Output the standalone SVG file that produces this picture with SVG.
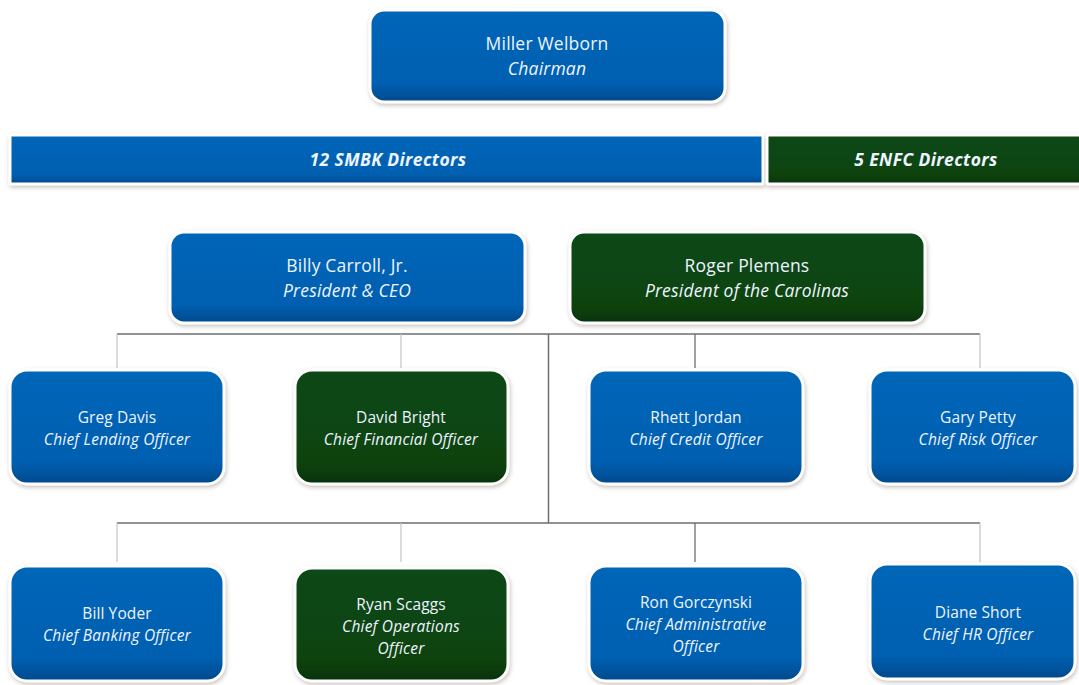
<svg xmlns="http://www.w3.org/2000/svg" width="1079" height="685" viewBox="0 0 1079 685">
  <defs>
    <linearGradient id="gBlue" x1="0" y1="0" x2="0" y2="1">
      <stop offset="0" stop-color="#0666b8"/>
      <stop offset="0.8" stop-color="#055fb0"/>
      <stop offset="1" stop-color="#034a8c"/>
    </linearGradient>
    <linearGradient id="gGreen" x1="0" y1="0" x2="0" y2="1">
      <stop offset="0" stop-color="#0a4813"/>
      <stop offset="0.8" stop-color="#094311"/>
      <stop offset="1" stop-color="#06330b"/>
    </linearGradient>
    <filter id="shadow" x="-10%" y="-10%" width="120%" height="130%">
      <feDropShadow dx="1" dy="2" stdDeviation="2" flood-color="#8a7a70" flood-opacity="0.45"/>
    </filter>
  </defs>
  <style>
    .blue { fill: url(#gBlue); stroke: #ffffff; stroke-width: 3; filter: url(#shadow); }
    .green { fill: url(#gGreen); stroke: #ffffff; stroke-width: 3; filter: url(#shadow); }
    text { font-family: "Open Sans", "Liberation Sans", sans-serif; fill: #eef4ff; text-anchor: middle; }
    .big { font-size: 17.5px; letter-spacing: 0.2px; }
    .bigi { font-size: 17.5px; font-style: italic; letter-spacing: 0.2px; }
    .sm { font-size: 15.5px; letter-spacing: 0.1px; }
    .smi { font-size: 15.5px; font-style: italic; letter-spacing: 0.2px; }
    .bar { font-size: 17.5px; font-style: italic; font-weight: bold; letter-spacing: 0.4px; }
    .main { stroke: #6e6e6e; stroke-width: 1.5; fill: none; }
    .stub { stroke: #c4c4c4; stroke-width: 1.2; fill: none; }
    .stubd { stroke: #6e6e6e; stroke-width: 1.3; fill: none; }
  </style>

  <rect width="1079" height="685" fill="#ffffff"/>

  <!-- connectors -->
  <g id="connectors">
    <path class="main" d="M117 334 H980"/>
    <path class="main" d="M548.5 334 V523"/>
    <path class="main" d="M117 523 H980"/>
    <path class="stub" d="M117 334 V368 M401 334 V368 M980 334 V368"/>
    <path class="stubd" d="M695 334 V368"/>
    <path class="stub" d="M117 523 V562 M401 523 V562 M980 523 V562"/>
    <path class="stubd" d="M695 523 V562"/>
  </g>

  <!-- chairman -->
  <g id="chairman">
    <rect class="blue" x="370" y="10" width="355" height="92" rx="14"/>
    <text class="big" x="547" y="50">Miller Welborn</text>
    <text class="bigi" x="547" y="75">Chairman</text>
  </g>

  <!-- board bar -->
  <g id="smbk-directors">
    <rect class="blue" x="10" y="135" width="753" height="49" rx="1"/>
    <text class="bar" x="388" y="166">12 SMBK Directors</text>
  </g>
  <g id="enfc-directors">
    <rect class="green" x="767" y="135" width="320" height="49" rx="1"/>
    <text class="bar" x="926" y="166">5 ENFC Directors</text>
  </g>

  <!-- presidents -->
  <g id="billy-carroll">
    <rect class="blue" x="170" y="232" width="355" height="91" rx="14"/>
    <text class="big" x="347" y="272">Billy Carroll, Jr.</text>
    <text class="bigi" x="347" y="297">President &amp; CEO</text>
  </g>
  <g id="roger-plemens">
    <rect class="green" x="570" y="232" width="355" height="91" rx="14"/>
    <text class="big" x="747" y="272">Roger Plemens</text>
    <text class="bigi" x="747" y="297">President of the Carolinas</text>
  </g>

  <!-- officers, first row -->
  <g id="greg-davis">
    <rect class="blue" x="10" y="370" width="214" height="114" rx="17"/>
    <text class="sm" x="117" y="423">Greg Davis</text>
    <text class="smi" x="117" y="445">Chief Lending Officer</text>
  </g>
  <g id="david-bright">
    <rect class="green" x="295" y="370" width="213" height="114" rx="17"/>
    <text class="sm" x="401" y="423">David Bright</text>
    <text class="smi" x="401" y="445">Chief Financial Officer</text>
  </g>
  <g id="rhett-jordan">
    <rect class="blue" x="589" y="370" width="214" height="114" rx="17"/>
    <text class="sm" x="696" y="423">Rhett Jordan</text>
    <text class="smi" x="696" y="445">Chief Credit Officer</text>
  </g>
  <g id="gary-petty">
    <rect class="blue" x="870" y="370" width="205" height="114" rx="17"/>
    <text class="sm" x="978" y="423">Gary Petty</text>
    <text class="smi" x="978" y="445">Chief Risk Officer</text>
  </g>

  <!-- officers, second row -->
  <g id="bill-yoder">
    <rect class="blue" x="10" y="566" width="214" height="115" rx="17"/>
    <text class="sm" x="117" y="619">Bill Yoder</text>
    <text class="smi" x="117" y="641">Chief Banking Officer</text>
  </g>
  <g id="ryan-scaggs">
    <rect class="green" x="295" y="568" width="213" height="113" rx="17"/>
    <text class="sm" x="401" y="610">Ryan Scaggs</text>
    <text class="smi" x="401" y="632">Chief Operations</text>
    <text class="smi" x="401" y="654">Officer</text>
  </g>
  <g id="ron-gorczynski">
    <rect class="blue" x="589" y="566" width="214" height="115" rx="17"/>
    <text class="sm" x="696" y="608">Ron Gorczynski</text>
    <text class="smi" x="696" y="630">Chief Administrative</text>
    <text class="smi" x="696" y="652">Officer</text>
  </g>
  <g id="diane-short">
    <rect class="blue" x="870" y="564" width="205" height="115" rx="17"/>
    <text class="sm" x="978" y="618">Diane Short</text>
    <text class="smi" x="978" y="640">Chief HR Officer</text>
  </g>
</svg>
